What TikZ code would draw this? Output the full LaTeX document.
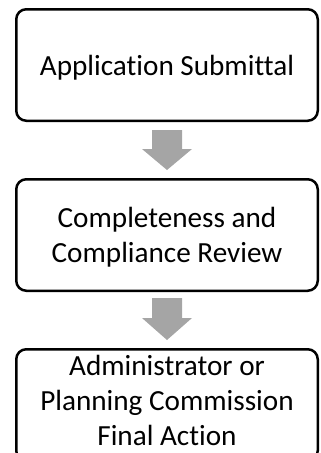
\documentclass[tikz,border=0pt]{standalone}
\usepackage{fontspec}
\setmainfont[Ligatures=NoCommon]{Carlito}
\usetikzlibrary{calc}
\definecolor{arrowgray}{HTML}{A5A5A5}
\tikzset{
  stepbox/.style={draw=black, line width=2.5pt, rounded corners=10pt,
    minimum width=301.5pt, minimum height=111.5pt, inner sep=0pt},
  steptext/.style={align=center, inner sep=0pt, font=\fontsize{29.2}{35}\selectfont},
  blockarrow/.style={fill=arrowgray, draw=none}
}
\begin{document}
\begin{tikzpicture}[x=1pt,y=1pt]
\useasboundingbox (0,0) rectangle (321,-453);
\clip (0,0) rectangle (321,-453);
\node[stepbox] (b1) at (167,-65) {};
\node[steptext] (t1) at ($(b1.center)+(0,-2.5)$) {Application Submittal};
\node[stepbox] (b2) at (167,-235) {};
\node[steptext] (t2) at ($(b2.center)+(0,-2)$) {Completeness and\\Compliance Review};
\node[stepbox] (b3) at (167,-405) {};
\node[steptext] (t3) at ($(b3.center)+(0,4.5)$) {Administrator or\\Planning Commission\\Final Action};
% arrow 1
\fill[blockarrow] ($(b1.south)+(-15,-8)$) -- ($(b1.south)+(15,-8)$) -- ($(b1.south)+(15,-27)$)
  -- ($(b1.south)+(25,-27)$) -- ($(b2.north)+(0,8)$) -- ($(b1.south)+(-25,-27)$)
  -- ($(b1.south)+(-15,-27)$) -- cycle;
% arrow 2
\fill[blockarrow] ($(b2.south)+(-15,-6)$) -- ($(b2.south)+(15,-6)$) -- ($(b2.south)+(15,-26)$)
  -- ($(b2.south)+(25,-26)$) -- ($(b3.north)+(0,8)$) -- ($(b2.south)+(-25,-26)$)
  -- ($(b2.south)+(-15,-26)$) -- cycle;
\end{tikzpicture}
\end{document}
